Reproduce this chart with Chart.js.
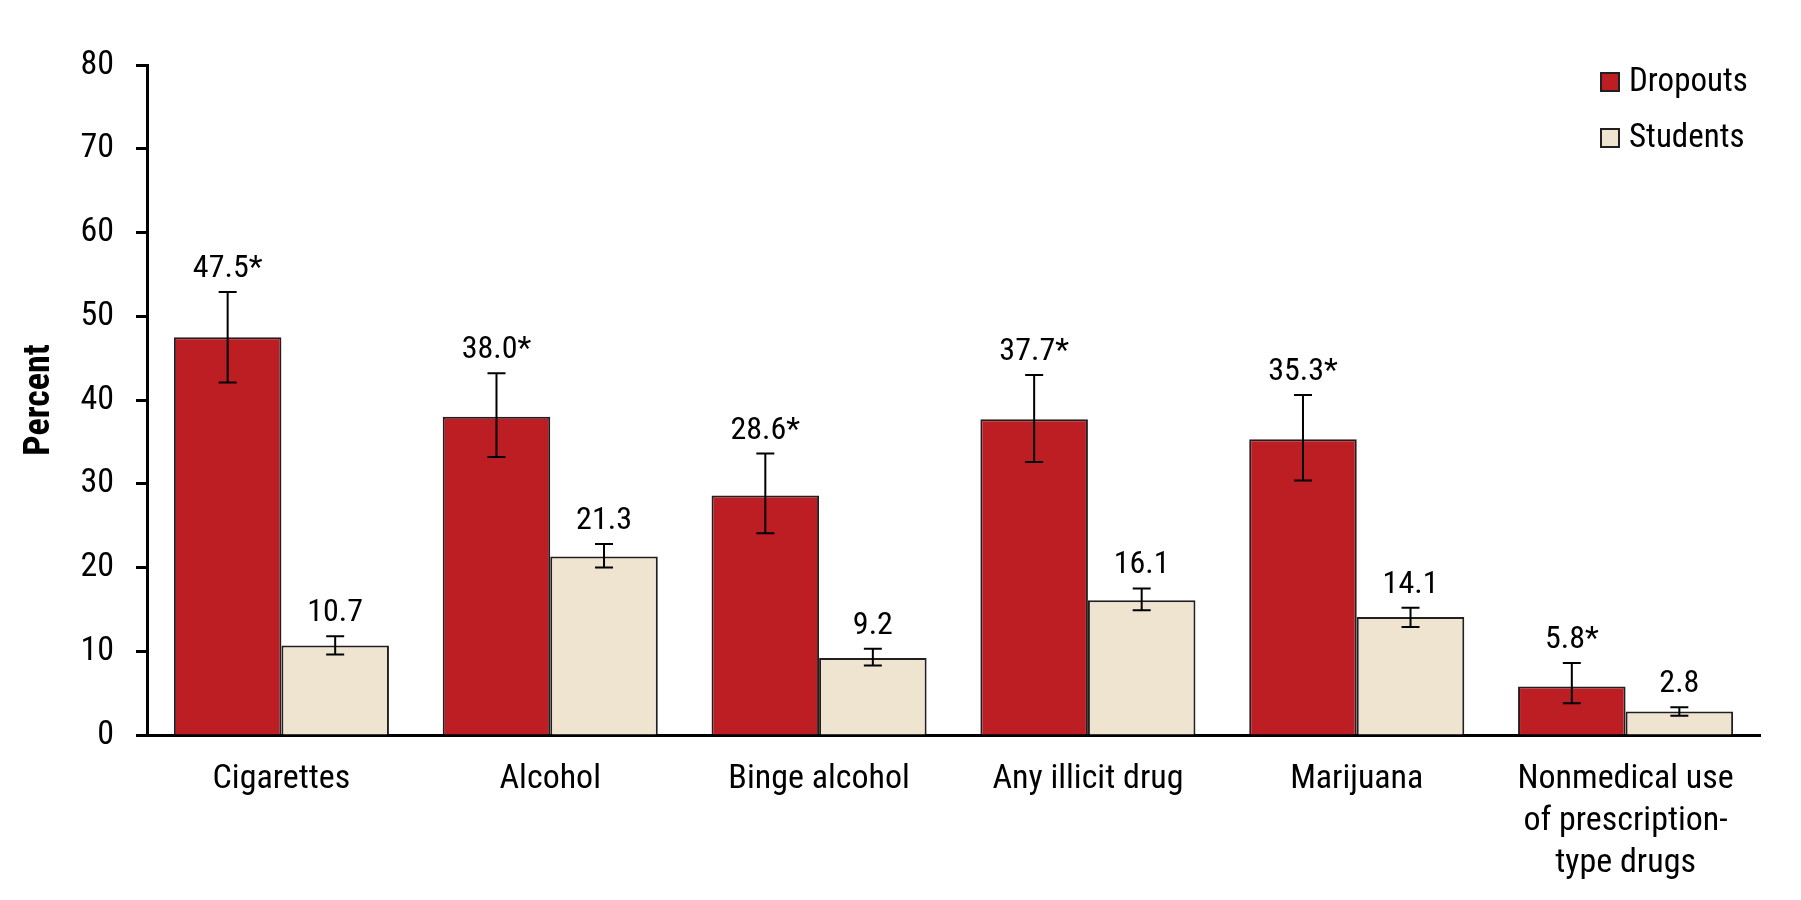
<!DOCTYPE html>
<html>
<head>
<meta charset="utf-8">
<title>Dropouts vs Students</title>
<script src="https://cdn.jsdelivr.net/npm/chart.js@4.4.1/dist/chart.umd.min.js"></script>
<style>
  html, body { margin: 0; padding: 0; background: #fff; }
  #wrap { width: 1801px; height: 900px; position: relative; }
</style>
</head>
<body>
<div id="wrap"><canvas id="chart"></canvas></div>
<script>
// Dados do gráfico
const categories = [
  "Cigarettes",
  "Alcohol",
  "Binge alcohol",
  "Any illicit drug",
  "Marijuana",
  ["Nonmedical use", "of prescription-", "type drugs"],
];
const dropouts = [47.5, 38.0, 28.6, 37.7, 35.3, 5.8];
const dropoutsLow = [42.1, 33.2, 24.1, 32.6, 30.4, 3.8];
const dropoutsHigh = [52.9, 43.2, 33.6, 43.0, 40.6, 8.6];
const dropoutsSig = [true, true, true, true, true, true];

const students = [10.7, 21.3, 9.2, 16.1, 14.1, 2.8];
const studentsLow = [9.6, 20.0, 8.3, 14.9, 12.9, 2.3];
const studentsHigh = [11.8, 22.8, 10.3, 17.5, 15.2, 3.3];
const studentsSig = [false, false, false, false, false, false];

const yTicks = [0, 10, 20, 30, 40, 50, 60, 70, 80];

const FONT = '"Roboto Condensed", "Liberation Sans Narrow", "DejaVu Sans Condensed", sans-serif';
const RED = "rgb(188, 30, 36)";
const BEIGE = "rgb(239, 228, 208)";
const EDGE = "#231f20";

// Barras de erro + rótulos de valor
const errorBarsPlugin = {
  id: "errorBars",
  afterDatasetsDraw(chart) {
    const { ctx } = chart;
    const yScale = chart.scales.y;
    chart.data.datasets.forEach((ds, i) => {
      const meta = chart.getDatasetMeta(i);
      meta.data.forEach((bar, j) => {
        const x = bar.x;
        const yLow = yScale.getPixelForValue(ds.low[j]);
        const yHigh = yScale.getPixelForValue(ds.high[j]);
        ctx.save();
        ctx.strokeStyle = "#000";
        ctx.lineWidth = 2;
        ctx.beginPath();
        ctx.moveTo(x, yLow);
        ctx.lineTo(x, yHigh);
        ctx.moveTo(x - 9, yLow);
        ctx.lineTo(x + 9, yLow);
        ctx.moveTo(x - 9, yHigh);
        ctx.lineTo(x + 9, yHigh);
        ctx.stroke();

        const text = ds.data[j].toFixed(1) + (ds.sig[j] ? "*" : "");
        ctx.fillStyle = "#000";
        ctx.font = "32px " + FONT;
        ctx.textAlign = "center";
        ctx.textBaseline = "alphabetic";
        ctx.fillText(text, x, yHigh - 15);
        ctx.restore();
      });
    });
  },
};

// Legenda desenhada no canto superior direito
const legendPlugin = {
  id: "customLegend",
  afterDraw(chart) {
    const { ctx, chartArea } = chart;
    const x0 = chartArea.right - 160;
    const rows = [72, 128];
    chart.data.datasets.forEach((ds, i) => {
      const y = rows[i];
      ctx.save();
      ctx.fillStyle = ds.backgroundColor;
      ctx.fillRect(x0, y, 20, 20);
      ctx.strokeStyle = EDGE;
      ctx.lineWidth = 2;
      ctx.strokeRect(x0 + 1, y + 1, 18, 18);
      ctx.fillStyle = "#000";
      ctx.font = "33px " + FONT;
      ctx.textAlign = "left";
      ctx.textBaseline = "middle";
      ctx.fillText(ds.label, x0 + 29, y + 11);
      ctx.restore();
    });
  },
};

const ctx = document.getElementById("chart").getContext("2d");
new Chart(ctx, {
  type: "bar",
  data: {
    labels: categories,
    datasets: [
      {
        label: "Dropouts",
        data: dropouts,
        low: dropoutsLow,
        high: dropoutsHigh,
        sig: dropoutsSig,
        backgroundColor: RED,
        borderColor: EDGE,
        borderWidth: 2,
        categoryPercentage: 0.8,
        barPercentage: 1.0,
      },
      {
        label: "Students",
        data: students,
        low: studentsLow,
        high: studentsHigh,
        sig: studentsSig,
        backgroundColor: BEIGE,
        borderColor: EDGE,
        borderWidth: 2,
        categoryPercentage: 0.8,
        barPercentage: 1.0,
      },
    ],
  },
  options: {
    responsive: true,
    maintainAspectRatio: false,
    animation: false,
    layout: {
      padding: { top: 65, right: 41, left: 0, bottom: 0 },
    },
    plugins: {
      legend: { display: false },
      tooltip: { enabled: false },
    },
    scales: {
      x: {
        grid: { display: true, drawOnChartArea: false, drawTicks: false },
        border: { display: true, color: "#000", width: 3 },
        ticks: {
          color: "#000",
          padding: 23,
          maxRotation: 0,
          autoSkip: false,
          font: { family: FONT, size: 34, lineHeight: 1.24 },
        },
        afterFit: (scale) => {
          scale.height = 165;
        },
      },
      y: {
        min: 0,
        max: 80,
        afterBuildTicks: (scale) => {
          scale.ticks = yTicks.map((v) => ({ value: v }));
        },
        grid: {
          display: true,
          drawOnChartArea: false,
          drawTicks: true,
          tickLength: 11,
          tickWidth: 3,
          tickColor: "#000",
        },
        border: { display: true, color: "#000", width: 3 },
        ticks: {
          color: "#000",
          padding: 22,
          font: { family: FONT, size: 34 },
        },
        title: {
          display: true,
          text: "Percent",
          color: "#000",
          padding: { top: 18, bottom: 0 },
          font: { family: FONT, size: 36, weight: "bold" },
        },
        afterFit: (scale) => {
          scale.width = 147;
        },
      },
    },
  },
  plugins: [errorBarsPlugin, legendPlugin],
});
</script>
</body>
</html>
